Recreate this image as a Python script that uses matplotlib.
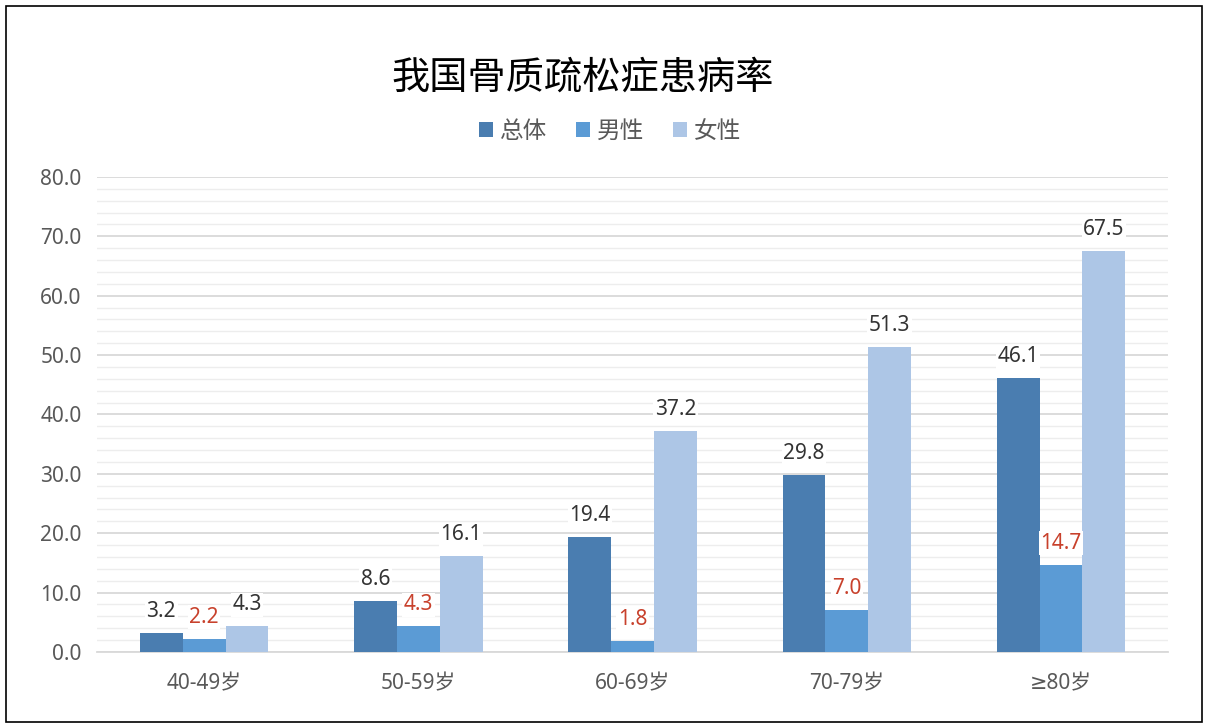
import matplotlib
matplotlib.use("Agg")
import matplotlib.pyplot as plt
from matplotlib.ticker import MultipleLocator, FuncFormatter
import numpy as np

plt.rcParams['font.family'] = ['Noto Sans', 'DejaVu Sans', 'Noto Sans CJK SC']

categories = ["40-49岁", "50-59岁", "60-69岁", "70-79岁", "≥80岁"]
total = [3.2, 8.6, 19.4, 29.8, 46.1]
male = [2.2, 4.3, 1.8, 7.0, 14.7]
female = [4.3, 16.1, 37.2, 51.3, 67.5]
series_names = ["总体", "男性", "女性"]
title = "我国骨质疏松症患病率"

colors = ["#4A7DB0", "#5B9BD5", "#ADC6E6"]
label_colors = ["#333333", "#C8412C", "#333333"]

fig = plt.figure(figsize=(12.08, 7.28), dpi=100)
ax = fig.add_axes([0.0803, 0.1044, 0.8867, 0.6525])

x = np.arange(len(categories))
w = 0.2
for i, (vals, c, lc, name) in enumerate(zip([total, male, female], colors, label_colors, series_names)):
    bars = ax.bar(x + (i - 1) * w, vals, width=w, color=c, label=name, zorder=3)
    for b, v in zip(bars, vals):
        ax.annotate(f"{v:.1f}", (b.get_x() + b.get_width() / 2, v), xytext=(0, 8),
                    textcoords="offset points", ha="center", va="bottom",
                    fontsize=15, color=lc, zorder=4,
                    bbox=dict(facecolor="white", edgecolor="none", pad=1))

ax.set_xlim(-0.5, len(categories) - 0.5)
ax.set_ylim(0, 80)
ax.yaxis.set_major_locator(MultipleLocator(10))
ax.yaxis.set_minor_locator(MultipleLocator(2))
ax.yaxis.set_major_formatter(FuncFormatter(lambda v, p: f"{v:.1f}"))
ax.grid(axis="y", which="major", color="#D9D9D9", linewidth=1.3, zorder=0)
ax.grid(axis="y", which="minor", color="#EDEDED", linewidth=1.0, zorder=0)
ax.set_axisbelow(True)
for s in ["top", "right", "left"]:
    ax.spines[s].set_visible(False)
ax.spines["bottom"].set_color("#D9D9D9")
ax.spines["bottom"].set_linewidth(1.3)
ax.tick_params(axis="both", which="both", length=0, labelsize=15, labelcolor="#595959")
ax.tick_params(axis="y", pad=11)
ax.tick_params(axis="x", pad=15)
ax.set_xticks(x)
ax.set_xticklabels(categories)

fig.text(0.482, 0.893, title, ha="center", va="center", fontsize=27.5, color="#000000",
         family=['Noto Sans CJK SC', 'DejaVu Sans'])
fig.legend(loc="center", bbox_to_anchor=(0.505, 0.820), ncol=3, frameon=False,
           prop=dict(family=['Noto Sans CJK SC', 'DejaVu Sans'], size=17),
           handlelength=0.6, handleheight=0.6, handletextpad=0.3,
           columnspacing=1.2, labelcolor="#595959")

border = plt.Rectangle((0.005, 0.008), 0.99, 0.984, transform=fig.transFigure,
                       fill=False, edgecolor="black", linewidth=1.2)
fig.patches.append(border)

fig.savefig("out.png", dpi=100, facecolor="white")
